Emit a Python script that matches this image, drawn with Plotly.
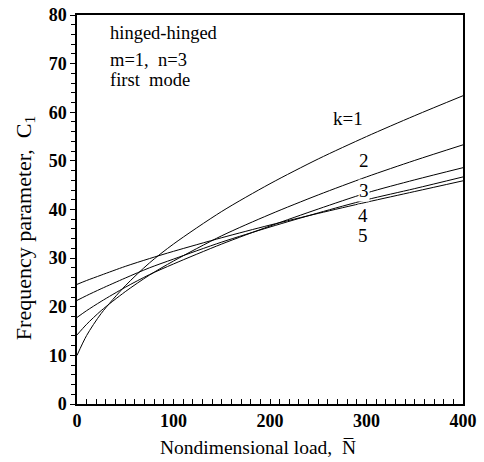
import plotly.graph_objects as go

# Nondimensional load values (x) at which curves were read
load = [0, 10, 25, 50, 75, 100, 150, 200, 250, 300, 350, 400]

# Frequency parameter C1 for each k
c_k1 = [10.0, 14.1, 18.6, 24.3, 29.0, 32.9, 39.6, 45.3, 50.4, 55.0, 59.3, 63.4]
c_k2 = [14.2, 16.4, 19.2, 23.1, 26.5, 29.4, 34.6, 39.0, 43.0, 46.7, 50.1, 53.3]
c_k3 = [17.8, 19.2, 21.1, 24.0, 26.6, 28.8, 32.9, 36.6, 40.1, 43.4, 46.1, 48.6]
c_k4 = [21.3, 22.3, 23.7, 25.9, 28.0, 29.8, 33.3, 36.4, 39.3, 42.0, 44.3, 46.7]
c_k5 = [24.6, 25.4, 26.5, 28.3, 29.9, 31.4, 34.2, 36.8, 39.2, 41.5, 43.7, 45.9]

series = [("k=1", c_k1), ("k=2", c_k2), ("k=3", c_k3), ("k=4", c_k4), ("k=5", c_k5)]

curve_labels = ["k=1", "2", "3", "4", "5"]
label_x = [281, 297, 297, 296, 296]
label_y = [58.7, 50.0, 43.9, 38.8, 34.7]

x_ticks = [0, 100, 200, 300, 400]
y_ticks = [0, 10, 20, 30, 40, 50, 60, 70, 80]

FONT = "Liberation Serif"

fig = go.Figure()
for name, vals in series:
    fig.add_trace(go.Scatter(
        x=load, y=vals, mode="lines", name=name,
        line=dict(color="black", width=1, shape="spline", smoothing=0.8),
        showlegend=False, hoverinfo="skip"))

for t, lx, ly in zip(curve_labels, label_x, label_y):
    fig.add_annotation(x=lx, y=ly, xref="x", yref="y", text=t, showarrow=False,
                       font=dict(family=FONT, size=19, color="black"),
                       xanchor="center", yanchor="middle", bgcolor="white",
                       borderpad=0)

# text block top-left
for txt, ypx in [("hinged-hinged", 33), ("m=1,  n=3", 60), ("first  mode", 80)]:
    fig.add_annotation(x=0, y=1, xref="paper", yref="paper", text=txt,
                       showarrow=False, xanchor="left", yanchor="middle",
                       xshift=31, yshift=-(ypx - 15),
                       font=dict(family=FONT, size=18.5, color="black"))

# axis titles
fig.add_annotation(x=0.469, y=0, xref="paper", yref="paper",
                   text="Nondimensional load,  N\u0305", showarrow=False,
                   xanchor="center", yanchor="middle", yshift=-43,
                   font=dict(family=FONT, size=19.5, color="black"))
fig.add_annotation(x=0, y=0.452, xref="paper", yref="paper",
                   text="Frequency parameter,  C<sub>1</sub>", showarrow=False,
                   xanchor="center", yanchor="middle", xshift=-52, textangle=-90,
                   font=dict(family=FONT, size=22, color="black"))

fig.update_xaxes(range=[0, 400], tickvals=x_ticks, ticks="inside", ticklen=5,
                 tickcolor="black", tickwidth=1, automargin=False,
                 minor=dict(dtick=10, ticks="inside", ticklen=5, tickcolor="black", tickwidth=1),
                 showline=True, linecolor="black", linewidth=1.5, mirror=True,
                 showgrid=False, zeroline=False,
                 tickfont=dict(family=FONT, size=18, color="black", weight="bold"))
fig.update_yaxes(range=[0, 80], tickvals=y_ticks, ticks="outside", ticklen=5,
                 tickcolor="black", tickwidth=1, automargin=False,
                 minor=dict(dtick=2, ticks="outside", ticklen=4, tickcolor="black", tickwidth=1),
                 showline=True, linecolor="black", linewidth=1.5, mirror=True,
                 showgrid=False, zeroline=False,
                 tickfont=dict(family=FONT, size=18, color="black", weight="bold"))

fig.update_layout(width=484, height=462, plot_bgcolor="white", paper_bgcolor="white",
                  margin=dict(l=77, r=21, t=15, b=58), showlegend=False)

fig.write_html("out.html", config={"displayModeBar": False},
               post_script="document.body.style.margin='0';document.body.style.overflow='hidden';")
